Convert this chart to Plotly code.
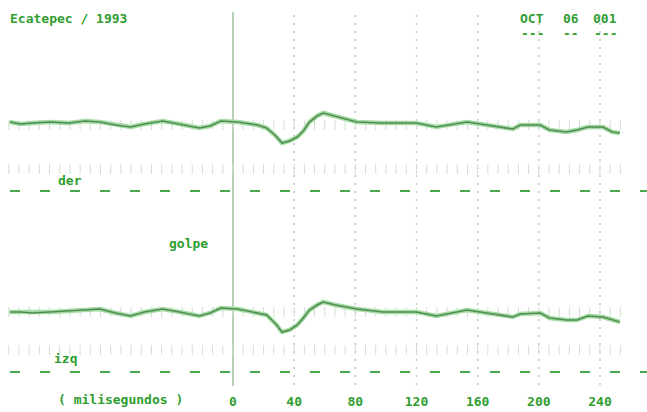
import plotly.graph_objects as go

# ---- data (time in ms, amplitude in arbitrary display units, up = positive) ----
time_ms = [-146, -139, -131, -120, -107, -97, -87, -77, -67, -58, -46, -35, -22, -15, -8,
           3, 16, 22, 28, 32, 37, 42, 46, 50, 55, 59, 67, 81, 98, 120, 133, 153, 166,
           183, 188, 201, 207, 218, 225, 232, 242, 248, 253]
der_amp = [3, 1, 2, 3, 2, 4, 3, 0, -2, 1, 4, 1, -3, -1, 4,
           3, 0, -3, -11, -18, -16, -12, -6, 3, 9, 12, 9, 3, 2, 2, -2, 3, 0,
           -4, 0, 0, -5, -7, -5, -2, -2, -7, -8]
izq_amp = [0, 0, -1, 0, 1, 2, 3, -1, -4, 0, 3, 0, -4, -1, 4,
           3, -1, -3, -12, -20, -18, -13, -6, 2, 7, 10, 7, 3, 0, 0, -4, 2, -1,
           -5, -2, -1, -6, -8, -8, -4, -5, -8, -10]
tick_vals = [0, 40, 80, 120, 160, 200, 240]
tick_text = ["0", "40", "80", "120", "160", "200", "240"]
title_left = "Ecatepec / 1993"
date_parts = ["OCT", "06", "001"]
channel_labels = ["der", "izq"]
event_label = "golpe"
axis_label = "( milisegundos )"

# ---- layout constants ----
W, H = 647, 412
PLOT_H = 390
px_per_ms = 1.529
x0_px = 233
X_MIN = -x0_px / px_per_ms
X_MAX = (W - x0_px) / px_per_ms

def py(p):  # screen pixel row -> data y
    return PLOT_H - p

def pxms(p):  # screen pixel col -> ms
    return (p - x0_px) / px_per_ms

GREEN_TXT = "#2f9e2f"
TRACE_DARK = "#4e8e4e"
TRACE_GLOW = "#a6dba6"
DASH_GREEN = "#4aa64a"
FONT = "DejaVu Sans Mono"

channels = [("der", der_amp, 125, 191, 169), ("izq", izq_amp, 312, 372, 350)]

fig = go.Figure()

# vertical dotted grid lines
for v in tick_vals[1:]:
    fig.add_trace(go.Scatter(x=[v, v], y=[py(15), py(385)], mode="lines",
                             line=dict(color="#c4c4c4", width=1.5, dash="2px,6px"),
                             hoverinfo="skip", showlegend=False))
# solid zero line
fig.add_trace(go.Scatter(x=[0, 0], y=[py(12), py(386)], mode="lines",
                         line=dict(color="#a4c4a4", width=1.6),
                         hoverinfo="skip", showlegend=False))

step = 40 / 6
tick_x = [k * step for k in range(-22, 39)]

for name, amp, base, dash_row, dot_row in channels:
    # small tick rows
    for row in (base, dot_row):
        fig.add_trace(go.Scatter(x=tick_x, y=[py(row)] * len(tick_x), mode="markers",
                                 marker=dict(symbol="line-ns", size=7,
                                             line=dict(color="#cfe0cf", width=1)),
                                 hoverinfo="skip", showlegend=False))
    # dashed reference line
    fig.add_trace(go.Scatter(x=[pxms(10), X_MAX], y=[py(dash_row)] * 2, mode="lines",
                             line=dict(color=DASH_GREEN, width=2.2, dash="10px,20px"),
                             hoverinfo="skip", showlegend=False))
    yvals = [py(base) + a for a in amp]
    fig.add_trace(go.Scatter(x=time_ms, y=yvals, mode="lines",
                             line=dict(color=TRACE_GLOW, width=4.5),
                             hoverinfo="skip", showlegend=False))
    fig.add_trace(go.Scatter(x=time_ms, y=yvals, mode="lines", name=name,
                             line=dict(color=TRACE_DARK, width=1.6),
                             showlegend=False))

ann_font = dict(family=FONT, size=13, color=GREEN_TXT, weight="bold")
annotations = [
    dict(x=pxms(8), y=py(18), text=title_left, xanchor="left"),
    dict(x=pxms(532), y=py(18), text=date_parts[0]),
    dict(x=pxms(571), y=py(18), text=date_parts[1]),
    dict(x=pxms(605), y=py(18), text=date_parts[2]),
    dict(x=pxms(532), y=py(33), text="-" * len(date_parts[0])),
    dict(x=pxms(571), y=py(33), text="-" * len(date_parts[1])),
    dict(x=pxms(605), y=py(33), text="-" * len(date_parts[2])),
    dict(x=pxms(70), y=py(180), text=channel_labels[0]),
    dict(x=pxms(188), y=py(243), text=event_label),
    dict(x=pxms(65), y=py(358), text=channel_labels[1]),
]
for a in annotations:
    a.setdefault("xanchor", "center")
    a.update(xref="x", yref="y", showarrow=False, yanchor="middle", font=ann_font)
# axis title below the plot area (paper-referenced so it is not hidden)
annotations.append(dict(x=pxms(120), y=py(400) / PLOT_H, xref="x", yref="paper",
                        text=axis_label, showarrow=False, xanchor="center",
                        yanchor="middle", font=ann_font))

fig.update_layout(
    width=W, height=H,
    margin=dict(l=0, r=0, t=0, b=H - PLOT_H),
    paper_bgcolor="white", plot_bgcolor="white",
    annotations=annotations,
    hovermode=False,
    xaxis=dict(range=[X_MIN, X_MAX], showgrid=False, zeroline=False, showline=False,
               tickvals=tick_vals, ticktext=tick_text, ticks="",
               tickfont=dict(family=FONT, size=13, color=GREEN_TXT, weight="bold"),
               ticklabelstandoff=2, fixedrange=True),
    yaxis=dict(range=[0, PLOT_H], visible=False, fixedrange=True),
)

fig.write_html("out.html", config={"displayModeBar": False, "staticPlot": True},
               post_script="document.body.style.margin='0';")
